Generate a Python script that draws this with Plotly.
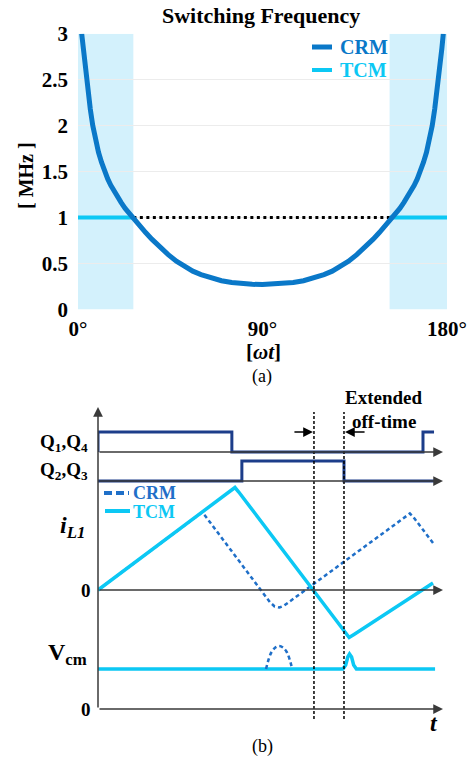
import plotly.graph_objects as go

W, H = 470, 760
FONT = "Liberation Serif"

# ---------------- (a) Switching frequency ----------------
CRM_DEG_HALF = [1.8, 2.5, 3.2, 4.2, 5.0, 6.0, 7.2, 8.5, 10.0, 11.5, 13.0, 14.5, 16.0, 17.5,
                19.0, 21.0, 23.0, 25.0, 27.0, 30.0, 33.0, 36.0, 40.0, 44.0, 48.0, 52.0,
                56.0, 60.0, 65.0, 70.0, 75.0, 80.0, 85.0, 90.0]
CRM_MHZ_HALF = [3.0, 2.84, 2.69, 2.5, 2.35, 2.18, 2.0, 1.85, 1.71, 1.6, 1.5, 1.42, 1.35, 1.29,
                1.23, 1.165, 1.10, 1.045, 0.99, 0.912, 0.837, 0.765, 0.677, 0.597, 0.525, 0.465,
                0.417, 0.379, 0.341, 0.313, 0.293, 0.281, 0.274, 0.271]
# the curve is symmetric about 90°
CRM_DEG = CRM_DEG_HALF + [180 - d for d in reversed(CRM_DEG_HALF[:-1])]
CRM_MHZ = CRM_MHZ_HALF + list(reversed(CRM_MHZ_HALF[:-1]))
TCM_DEG_L = [0, 27]
TCM_DEG_R = [152, 180]
TCM_MHZ = [1.0, 1.0]
TCM_GAP = [27, 152]           # dotted 1 MHz reference where CRM is below
SHADE_DEG = [(0, 27), (152, 180)]
X_TICKS = [0, 90, 180]
X_TICKTEXT = ["0°", "90°", "180°"]
Y_TICKS = [0, 0.5, 1, 1.5, 2, 2.5, 3]
Y_TICKTEXT = ["0", "0.5", "1", "1.5", "2", "2.5", "3"]

# ---------------- (b) Waveforms (time in arbitrary units 0..100) ----------------
Q14_T = [0, 0, 38.8, 94.2, 97.4]
Q14 = [0, 1, 0, 1, 1]
Q23_T = [0, 41.7, 71.3, 97.4]
Q23 = [0, 1, 0, 0]
IL_CRM_T = [0, 29.2, 30.1, 31.0, 49.8, 51.2, 52.6, 54.0, 89.4, 90.4, 91.4, 97.1]
IL_CRM = [0, 7.56, 7.75, 7.45, -1.2, -1.65, -1.75, -1.55, 7.4, 7.65, 7.3, 4.7]
IL_TCM_T = [0, 38.6, 39.7, 40.8, 71.6, 72.8, 74.2, 97.1]
IL_TCM = [0, 10.0, 10.25, 9.8, -4.25, -4.75, -4.45, 0.7]
VCM_TCM_T = [0, 71.0, 71.8, 72.4, 72.9, 73.5, 74.1, 74.9, 97.7]
VCM_TCM = [4, 4, 4.4, 5.2, 5.5, 5.2, 4.4, 4, 4]
VCM_CRM_T = [48.7, 49.4, 50.3, 51.4, 52.5, 53.6, 54.7, 55.6, 56.3]
VCM_CRM = [4.0, 4.9, 5.7, 6.15, 6.3, 6.15, 5.7, 4.9, 4.0]
DASH_T = [62.6, 71.3]
OFF_ARROW_L = (56.5, 62.3)
OFF_ARROW_R = (77.7, 71.6)

# colours
C_CRM = "#0a78c8"
C_CRM_B = "#1f6fc8"
C_TCM = "#0cc8f4"
C_SHADE = "#d3f1fc"
C_NAVY = "#1c3d8a"
C_AX = "#3a3a3a"

# layout constants for part (b) (y2 units)
Q14_BASE, Q23_BASE, Q_AMP = 257, 228, 20
IL_ZERO, IL_SCALE = 119, 10
VCM_ZERO, VCM_SCALE = 0, 10


def pxx(x):
    return x / W


def pxy(y):
    return 1 - y / H


fig = go.Figure()

# ---- (a) traces ----
fig.add_trace(go.Scatter(x=TCM_DEG_L, y=TCM_MHZ, mode="lines",
                         line=dict(color=C_TCM, width=4), xaxis="x", yaxis="y", showlegend=False))
fig.add_trace(go.Scatter(x=TCM_DEG_R, y=TCM_MHZ, mode="lines",
                         line=dict(color=C_TCM, width=4), xaxis="x", yaxis="y", showlegend=False))
fig.add_trace(go.Scatter(x=TCM_GAP, y=TCM_MHZ, mode="lines",
                         line=dict(color="black", width=3, dash="3px,3.5px"), xaxis="x", yaxis="y",
                         showlegend=False))
fig.add_trace(go.Scatter(x=CRM_DEG, y=CRM_MHZ, mode="lines",
                         line=dict(color=C_CRM, width=5), xaxis="x", yaxis="y",
                         showlegend=False))

# ---- (b) traces ----
fig.add_trace(go.Scatter(x=Q14_T, y=[Q14_BASE + Q_AMP * v for v in Q14], mode="lines", line_shape="hv",
                         line=dict(color=C_NAVY, width=3), xaxis="x2", yaxis="y2", showlegend=False))
fig.add_trace(go.Scatter(x=Q23_T, y=[Q23_BASE + Q_AMP * v for v in Q23], mode="lines", line_shape="hv",
                         line=dict(color=C_NAVY, width=3), xaxis="x2", yaxis="y2", showlegend=False))
fig.add_trace(go.Scatter(x=IL_CRM_T, y=[IL_ZERO + IL_SCALE * v for v in IL_CRM], mode="lines",
                         line=dict(color=C_CRM_B, width=2.5, dash="4px,3px"), xaxis="x2", yaxis="y2",
                         showlegend=False))
fig.add_trace(go.Scatter(x=IL_TCM_T, y=[IL_ZERO + IL_SCALE * v for v in IL_TCM], mode="lines",
                         line=dict(color=C_TCM, width=3.5), xaxis="x2", yaxis="y2", showlegend=False))
fig.add_trace(go.Scatter(x=VCM_TCM_T, y=[VCM_ZERO + VCM_SCALE * v for v in VCM_TCM], mode="lines",
                         line=dict(color=C_TCM, width=3.5), xaxis="x2", yaxis="y2", showlegend=False))
fig.add_trace(go.Scatter(x=VCM_CRM_T, y=[VCM_ZERO + VCM_SCALE * v for v in VCM_CRM], mode="lines",
                         line_shape="spline",
                         line=dict(color=C_CRM_B, width=2.5, dash="4px,3px"), xaxis="x2", yaxis="y2",
                         showlegend=False))

shapes = []
for a, b in SHADE_DEG:
    shapes.append(dict(type="rect", xref="x", yref="y", x0=a, x1=b, y0=0, y1=3,
                       fillcolor=C_SHADE, line=dict(width=0), layer="below"))
for t in DASH_T:
    shapes.append(dict(type="line", xref="x2", yref="y2", x0=t, x1=t, y0=-10, y1=297,
                       line=dict(color="black", width=1.5, dash="3px,2px")))
# legends (a)
shapes.append(dict(type="line", xref="paper", yref="paper", x0=pxx(312), x1=pxx(332),
                   y0=pxy(47), y1=pxy(47), line=dict(color=C_CRM, width=5)))
shapes.append(dict(type="line", xref="paper", yref="paper", x0=pxx(312), x1=pxx(332),
                   y0=pxy(70), y1=pxy(70), line=dict(color=C_TCM, width=4)))
# legends (b)
shapes.append(dict(type="line", xref="paper", yref="paper", x0=pxx(104), x1=pxx(129),
                   y0=pxy(493), y1=pxy(493), line=dict(color=C_CRM_B, width=4, dash="8px,4px")))
shapes.append(dict(type="line", xref="paper", yref="paper", x0=pxx(105), x1=pxx(130),
                   y0=pxy(511), y1=pxy(511), line=dict(color=C_TCM, width=4)))

ann = []


def text(x, y, s, size=19, bold=True, color="black", xanchor="center", angle=0, italic=False):
    ann.append(dict(xref="paper", yref="paper", x=pxx(x), y=pxy(y), text=s, showarrow=False,
                    xanchor=xanchor, yanchor="middle", textangle=angle,
                    font=dict(family=FONT, size=size, color=color,
                              weight="bold" if bold else "normal",
                              style="italic" if italic else "normal")))


def arrow(x0, y0, x1, y1, color=C_AX, width=1.5):
    ann.append(dict(xref="x2", yref="y2", axref="x2", ayref="y2", x=x1, y=y1, ax=x0, ay=y0,
                    text="", showarrow=True, arrowhead=2, arrowsize=1.3, arrowwidth=width,
                    arrowcolor=color, standoff=0, startstandoff=0))


text(261, 15, "Switching Frequency", size=22)
text(26, 176, "[ MHz ]", size=20, angle=-90)
text(263, 352, "[<i>ωt</i>]", size=21)
text(262, 376, "(a)", size=18, bold=False)
text(338, 47, "CRM", size=20, color=C_CRM, xanchor="left")
text(338, 70, "TCM", size=20, color=C_TCM, xanchor="left")

text(131, 493, "CRM", size=18, color=C_CRM_B, xanchor="left")
text(131, 512, "TCM", size=18, color=C_TCM, xanchor="left")
text(384, 397, "Extended", size=19)
text(384, 422, "off-time", size=19)
text(90, 443, "Q<sub>1</sub>,Q<sub>4</sub>", size=19, xanchor="right")
text(90, 471, "Q<sub>2</sub>,Q<sub>3</sub>", size=19, xanchor="right")
text(87, 527, "<i>i<sub>L1</sub></i>", size=24, xanchor="right")
text(93, 590, "0", size=19, xanchor="right")
text(89, 654, "V<sub>cm</sub>", size=24, xanchor="right")
text(93, 709, "0", size=19, xanchor="right")
text(434, 723, "<i>t</i>", size=24)
text(262, 746, "(b)", size=18, bold=False)

# axes of (b)
arrow(0, 0, 0, 302)
for base in (Q14_BASE, Q23_BASE, IL_ZERO, VCM_ZERO):
    arrow(0, base, 100, base)
arrow(OFF_ARROW_L[0], 277, OFF_ARROW_L[1], 277, color="black")
arrow(OFF_ARROW_R[0], 277, OFF_ARROW_R[1], 277, color="black")

tickfont = dict(family=FONT, size=21, color="black", weight="bold")
fig.update_layout(
    width=W, height=H, autosize=False,
    margin=dict(l=0, r=0, t=0, b=0, pad=0, autoexpand=False),
    paper_bgcolor="white", plot_bgcolor="white",
    xaxis=dict(domain=[pxx(78), pxx(447)], range=[0, 180], tickvals=X_TICKS, ticktext=X_TICKTEXT,
               showgrid=False, zeroline=False, showline=False, ticks="", tickfont=tickfont,
               ticklabelstandoff=4, anchor="y", fixedrange=True, automargin=False),
    yaxis=dict(domain=[pxy(309.5), pxy(33.7)], range=[0, 3], tickvals=Y_TICKS, ticktext=Y_TICKTEXT,
               showgrid=True, gridcolor="#ececec", gridwidth=1, zeroline=False, showline=False,
               ticks="", tickfont=tickfont, ticklabelstandoff=9, anchor="x", fixedrange=True,
               automargin=False),
    xaxis2=dict(domain=[pxx(98), pxx(443)], range=[0, 100], visible=False, anchor="y2",
                automargin=False),
    yaxis2=dict(domain=[pxy(724), pxy(407)], range=[-15, 302], visible=False, anchor="x2",
                automargin=False),
    shapes=shapes, annotations=ann,
)

fig.write_html("out.html", config={"displayModeBar": False},
               post_script="document.body.style.margin='0';")
